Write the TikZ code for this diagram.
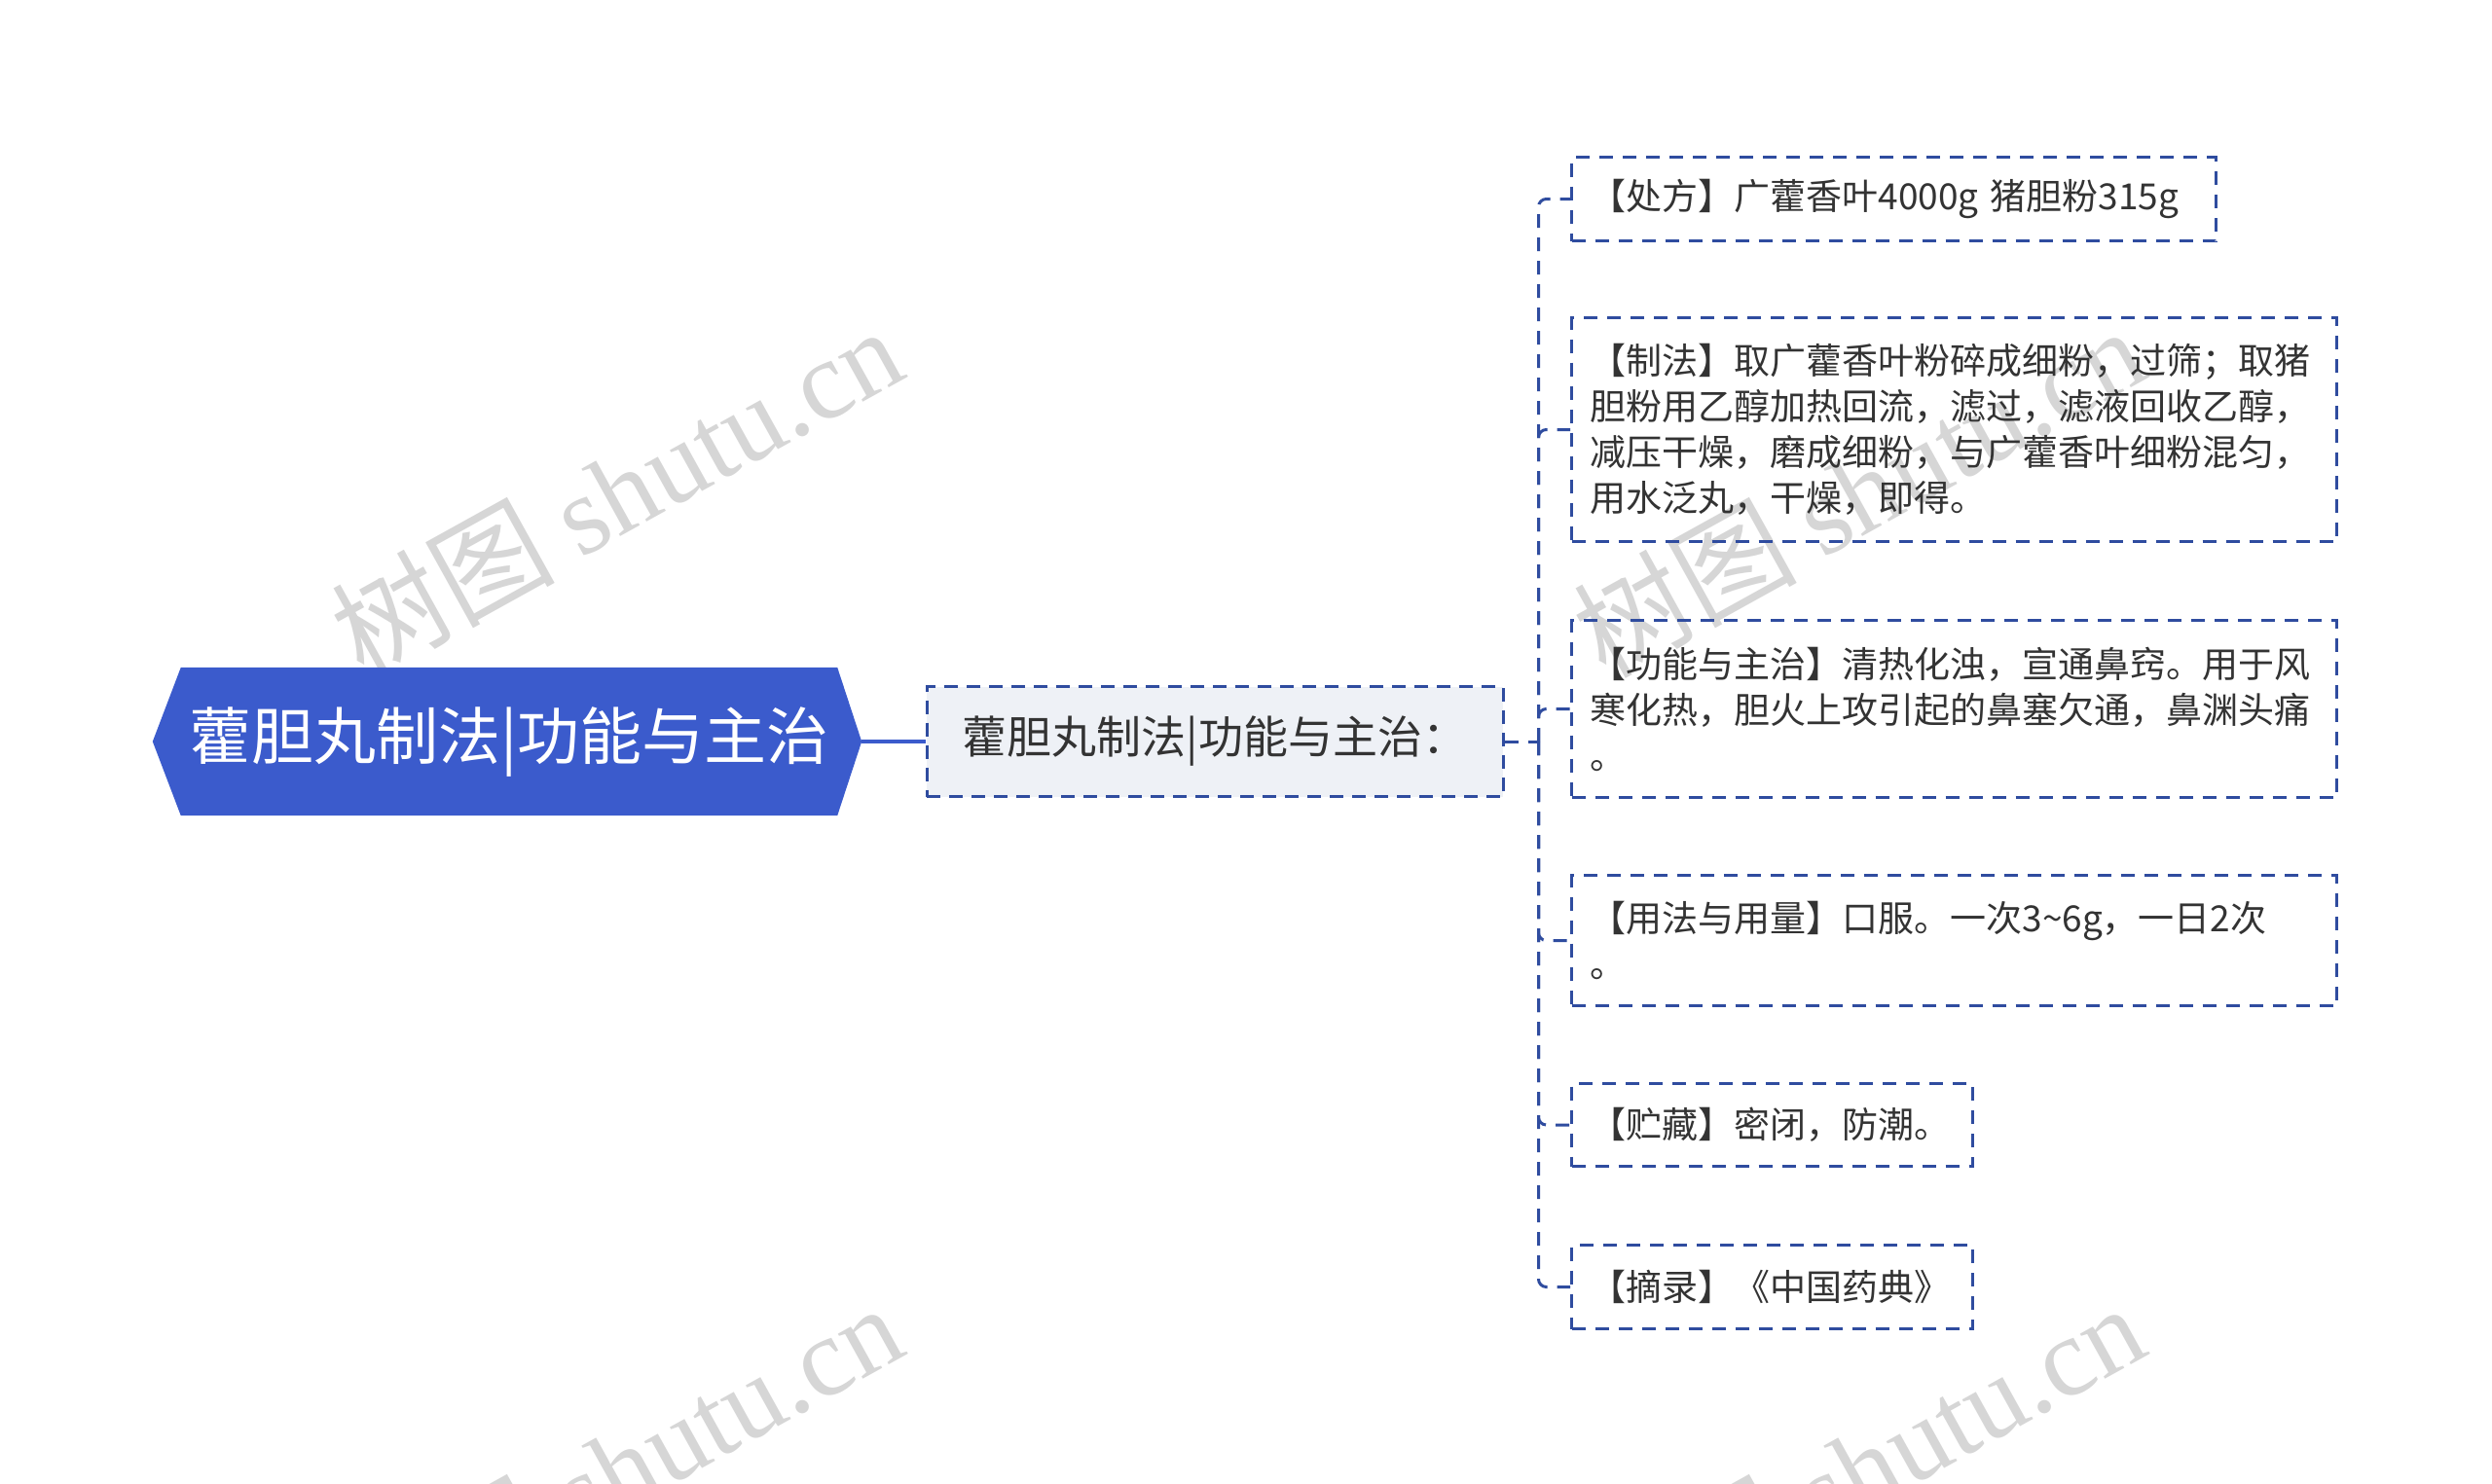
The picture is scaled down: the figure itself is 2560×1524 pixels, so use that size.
\documentclass[tikz,border=0pt]{standalone}
\usepackage{fontspec}
\setmainfont{Noto Sans CJK SC}
\newfontfamily\markfont{Liberation Serif}
\usetikzlibrary{backgrounds}
\definecolor{rootblue}{HTML}{3B5BCC}
\definecolor{linkblue}{HTML}{2F4C9F}
\definecolor{subfill}{HTML}{EEF1F6}
\definecolor{inkgray}{HTML}{333333}
\definecolor{markgray}{HTML}{D6D6D6}

\tikzset{
  titlebox/.style={minimum width=674, minimum height=152, inner sep=0,
    text=white, font=\fontsize{64}{76}\selectfont},
  summarybox/.style={draw=linkblue, fill=subfill, line width=3,
    dash pattern=on 14 off 9, minimum width=592, minimum height=113,
    text=inkgray, font=\fontsize{46}{56}\selectfont},
  leafbox/.style={draw=linkblue, line width=3, dash pattern=on 14 off 10,
    anchor=north west, align=left, inner xsep=19, inner ysep=4,
    text=inkgray, font=\fontsize{37}{47}\selectfont},
  link/.style={draw=linkblue, line width=3, dash pattern=on 14 off 10,
    rounded corners=8},
  mainlink/.style={draw=rootblue, line width=4},
  markstyle/.style={text=markgray, anchor=base west, rotate=29,
    font=\fontsize{115}{126}\selectfont}
}

\begin{document}
\begin{tikzpicture}[x=1pt, y=-1pt]
    \useasboundingbox (0,0) rectangle (2560,1524);
    \begin{scope}[on background layer]
        \fill[white] (0,0) rectangle (2560,1524);
        % watermarks
        \node[markstyle] (mark1) at (370,700) {树图 {\markfont shutu.cn}};
        \node[markstyle] (mark2) at (1646,700) {树图 {\markfont shutu.cn}};
        \node[markstyle] (mark3) at (370,1704) {树图 {\markfont shutu.cn}};
        \node[markstyle] (mark4) at (1646,1704) {树图 {\markfont shutu.cn}};
    \end{scope}

    \node[titlebox] (title) at (523,762) {藿胆丸制法|功能与主治};
    \coordinate (titlein) at ([shift={(-29,0)}]title.west);
    \coordinate (titleout) at ([shift={(25,0)}]title.east);
    \begin{scope}[on background layer]
        \fill[rootblue] (title.north west) -- (title.north east) -- (titleout)
            -- (title.south east) -- (title.south west) -- (titlein) -- cycle;
    \end{scope}

    \node[summarybox] (summary) at (1248,762) {藿胆丸制法|功能与主治：};
    \draw[mainlink] (titleout) -- (summary.west);

    \node[leafbox, minimum width=662, minimum height=86, text width=624] (chufang) at (1613,160)
        {【处方】广藿香叶4000g 猪胆粉315g};
    \node[leafbox, minimum width=786, minimum height=230, text width=748] (zhifa) at (1613,325)
        {【制法】取广藿香叶粉碎成细粉，过筛；取猪\\胆粉用乙醇加热回流，滤过，滤液回收乙醇，\\减压干燥，磨成细粉，与广藿香叶细粉混匀，\\用水泛丸，干燥，即得。};
    \node[leafbox, minimum width=786, minimum height=182, text width=748] (gongneng) at (1613,636)
        {【功能与主治】清热化浊，宣通鼻窍。用于风\\寒化热，胆火上攻引起的鼻塞欠通，鼻渊头痛\\。};
    \node[leafbox, minimum width=786, minimum height=134, text width=748] (yongfa) at (1613,898)
        {【用法与用量】口服。一次3\textasciitilde6g，一日2次\\。};
    \node[leafbox, minimum width=412, minimum height=85, text width=374] (zhucang) at (1613,1112)
        {【贮藏】密闭，防潮。};
    \node[leafbox, minimum width=412, minimum height=86, text width=374] (zhailu) at (1613,1278)
        {【摘录】《中国药典》};

    % trunk to the leaves
    \coordinate (hub) at ([shift={(35,0)}]summary.east);
    \draw[link] (summary.east) -- (hub);
    \foreach \leaf in {chufang,zhifa,gongneng,yongfa,zhucang,zhailu}
        \draw[link] (hub) |- (\leaf.west);
\end{tikzpicture}
\end{document}
